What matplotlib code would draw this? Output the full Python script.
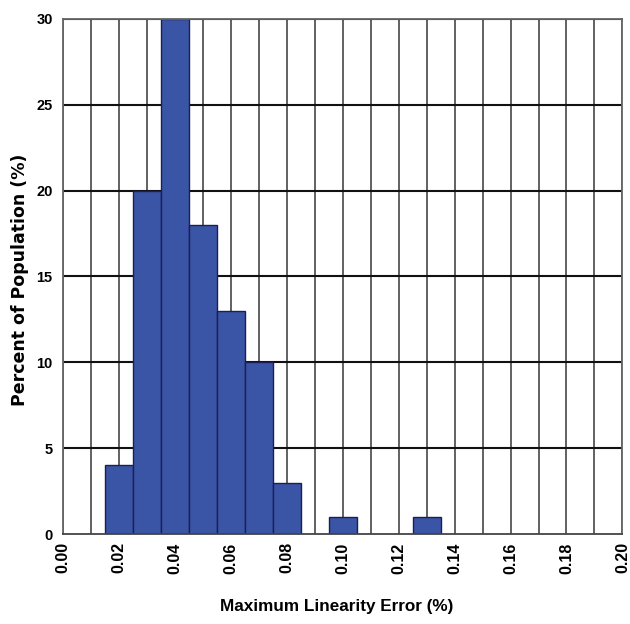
import matplotlib
matplotlib.use('Agg')
import matplotlib.pyplot as plt

centers = [0.02, 0.03, 0.04, 0.05, 0.06, 0.07, 0.08, 0.10, 0.13]
percent = [4, 20, 30, 18, 13, 10, 3, 1, 1]
xticks = [0.00, 0.02, 0.04, 0.06, 0.08, 0.10, 0.12, 0.14, 0.16, 0.18, 0.20]
yticks = [0, 5, 10, 15, 20, 25, 30]

fnt = ['Liberation Sans', 'DejaVu Sans']

fig = plt.figure(figsize=(6.3, 6.24), dpi=100)
ax = fig.add_axes([0.1, 0.1442, 0.888, 0.8254])

# grid first so bars sit on top of it
for i in range(21):
    ax.axvline(i * 0.01, color='#555555', lw=1.3, zorder=1)
for y in yticks[1:]:
    ax.axhline(y, color='#111111', lw=1.5, zorder=1)

ax.bar(centers, percent, width=0.01, color='#3a54a6', edgecolor='#1b1f55',
       linewidth=1.0, zorder=2)

ax.set_xlim(0, 0.20)
ax.set_ylim(0, 30)
ax.set_xticks(xticks)
ax.set_xticklabels(['%.2f' % v for v in xticks], rotation=90,
                   fontsize=11.5, fontweight='bold', family=fnt)
ax.set_yticks(yticks)
ax.set_yticklabels([str(v) for v in yticks], fontsize=10.5,
                   fontweight='bold', family=fnt)
ax.tick_params(axis='x', length=0, pad=6)
ax.tick_params(axis='y', length=0, pad=7.5)
for s in ax.spines.values():
    s.set_color('#666666')
    s.set_linewidth(1.3)
ax.spines['bottom'].set_color('#444444')

fig.text(337 / 630, 1 - 607 / 624, 'Maximum Linearity Error (%)', fontsize=12.3,
         fontweight='bold', family=fnt, ha='center', va='center')
fig.text(20 / 630, 1 - 280 / 624, 'Percent of Population (%)', fontsize=12.5,
         fontweight='bold', family='DejaVu Sans', ha='center', va='center',
         rotation=90)

fig.savefig('out.png', dpi=100, facecolor='white')
